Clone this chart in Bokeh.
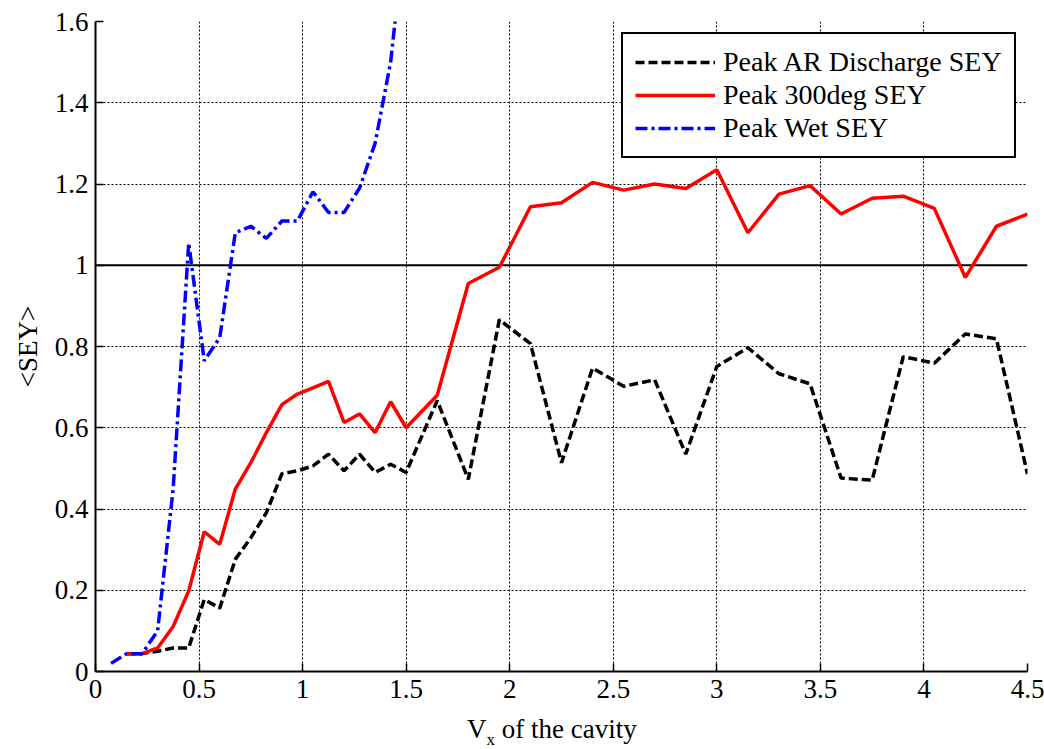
from bokeh.plotting import figure
from bokeh.layouts import column
from bokeh.models import (Legend, LegendItem, Span, FixedTicker, Div,
                          CustomJSTickFormatter, ColumnDataSource)
from bokeh.embed import file_html
from bokeh.resources import INLINE

# ---- data ----
x_main = [0.15, 0.225, 0.3, 0.375, 0.45, 0.525, 0.6, 0.675, 0.75, 0.825,
          0.9, 0.975, 1.05, 1.125, 1.2, 1.275, 1.35, 1.425, 1.5, 1.65,
          1.8, 1.95, 2.1, 2.25, 2.4, 2.55, 2.7, 2.85, 3.0, 3.15,
          3.3, 3.45, 3.6, 3.75, 3.9, 4.05, 4.2, 4.35, 4.5]
sey_ar_discharge = [0.044, 0.044, 0.05, 0.058, 0.058, 0.177, 0.156, 0.276, 0.329, 0.391,
                    0.487, 0.494, 0.506, 0.535, 0.494, 0.535, 0.49, 0.51, 0.49, 0.667,
                    0.473, 0.866, 0.807, 0.514, 0.747, 0.702, 0.718, 0.535, 0.751, 0.797,
                    0.733, 0.708, 0.476, 0.471, 0.775, 0.759, 0.831, 0.819, 0.486]
sey_300deg = [0.044, 0.044, 0.058, 0.111, 0.198, 0.344, 0.313, 0.449, 0.514, 0.588,
              0.657, 0.683, 0.698, 0.714, 0.613, 0.634, 0.588, 0.664, 0.6, 0.68,
              0.955, 0.995, 1.144, 1.154, 1.204, 1.185, 1.2, 1.189, 1.235, 1.08,
              1.175, 1.196, 1.126, 1.165, 1.17, 1.14, 0.97, 1.096, 1.126]
x_wet = [0.075, 0.15, 0.225, 0.3, 0.375, 0.45, 0.525, 0.6, 0.675, 0.75,
         0.825, 0.9, 0.975, 1.05, 1.125, 1.2, 1.275, 1.35, 1.425, 1.5]
sey_wet = [0.02, 0.044, 0.044, 0.1, 0.45, 1.055, 0.765, 0.822, 1.08, 1.096,
           1.066, 1.109, 1.109, 1.181, 1.13, 1.13, 1.19, 1.30, 1.50, 1.85]

x_ticks = [0, 0.5, 1, 1.5, 2, 2.5, 3, 3.5, 4, 4.5]
y_ticks = [0, 0.2, 0.4, 0.6, 0.8, 1, 1.2, 1.4, 1.6]
series_names = ["Peak AR Discharge SEY", "Peak 300deg SEY", "Peak Wet SEY"]
x_label_main, x_label_sub, x_label_rest = "V", "x", "of the cavity"
y_label = "<SEY>"

FONT = "Liberation Serif"
FS = "27px"

p = figure(width=1044, height=711, x_range=(0, 4.5), y_range=(0, 1.6),
           output_backend="svg", toolbar_location=None,
           min_border_left=95, min_border_right=17, min_border_top=21,
           min_border_bottom=40)
p.outline_line_color = None
p.background_fill_color = "white"
p.border_fill_color = "white"

fmt = CustomJSTickFormatter(code="return String(Math.round(tick*10)/10);")
for ax, ticks in ((p.xaxis[0], x_ticks), (p.yaxis[0], y_ticks)):
    ax.ticker = FixedTicker(ticks=ticks)
    ax.formatter = fmt
    ax.major_tick_in = 8
    ax.major_tick_out = 0
    ax.minor_tick_line_color = None
    ax.axis_line_width = 2
    ax.axis_line_color = "black"
    ax.major_tick_line_color = "black"
    ax.major_tick_line_width = 1.5
    ax.major_label_text_font = FONT
    ax.major_label_text_font_size = FS
    ax.major_label_text_color = "black"

p.xaxis.major_label_standoff = 8
p.yaxis.major_label_standoff = 7
p.yaxis.axis_label = y_label
p.yaxis.axis_label_text_font = FONT
p.yaxis.axis_label_text_font_size = FS
p.yaxis.axis_label_text_font_style = "normal"
p.yaxis.axis_label_text_color = "black"
p.yaxis.axis_label_standoff = 9

p.xgrid.ticker = FixedTicker(ticks=x_ticks)
p.ygrid.ticker = FixedTicker(ticks=y_ticks)
for g in (p.xgrid[0], p.ygrid[0]):
    g.grid_line_color = "black"
    g.grid_line_dash = "2 2"
    g.grid_line_width = 1
    g.grid_line_alpha = 1

p.add_layout(Span(location=1, dimension="width", line_color="black",
                  line_width=2, level="underlay"))

src_main = ColumnDataSource(dict(x=x_main, ar=sey_ar_discharge, deg=sey_300deg))
src_wet = ColumnDataSource(dict(x=x_wet, wet=sey_wet))

r_ar = p.line("x", "ar", source=src_main, line_color="black", line_width=3.5,
              line_dash="9 4")
r_deg = p.line("x", "deg", source=src_main, line_color="#ff0000", line_width=3.5)
r_wet = p.line("x", "wet", source=src_wet, line_color="#0000ff", line_width=3.5,
               line_dash="12 4 3 4")

legend = Legend(items=[LegendItem(label=series_names[0], renderers=[r_ar]),
                       LegendItem(label=series_names[1], renderers=[r_deg]),
                       LegendItem(label=series_names[2], renderers=[r_wet])],
                location=(526, 513))
legend.label_text_font = FONT
legend.label_text_font_size = "28px"
legend.label_text_color = "black"
legend.glyph_width = 80
legend.glyph_height = 30
legend.label_height = 30
legend.label_standoff = 8
legend.spacing = 1
legend.padding = 12
legend.margin = 0
legend.border_line_color = "black"
legend.border_line_alpha = 1
legend.border_line_width = 2
legend.background_fill_color = "white"
legend.background_fill_alpha = 1
p.add_layout(legend, "center")

xlabel = Div(
    text=(f'{x_label_main}<span style="font-size:17px;vertical-align:-7px;">'
          f'{x_label_sub}</span> {x_label_rest}'),
    width=1044, height=38,
    styles={"font-family": "Liberation Serif", "font-size": "27px", "color": "black",
            "padding-left": "462px", "padding-top": "0px", "line-height": "27px",
            "white-space": "nowrap", "background": "white"})

layout = column(p, xlabel, spacing=0)
open("out.html", "w").write(file_html(layout, INLINE))
